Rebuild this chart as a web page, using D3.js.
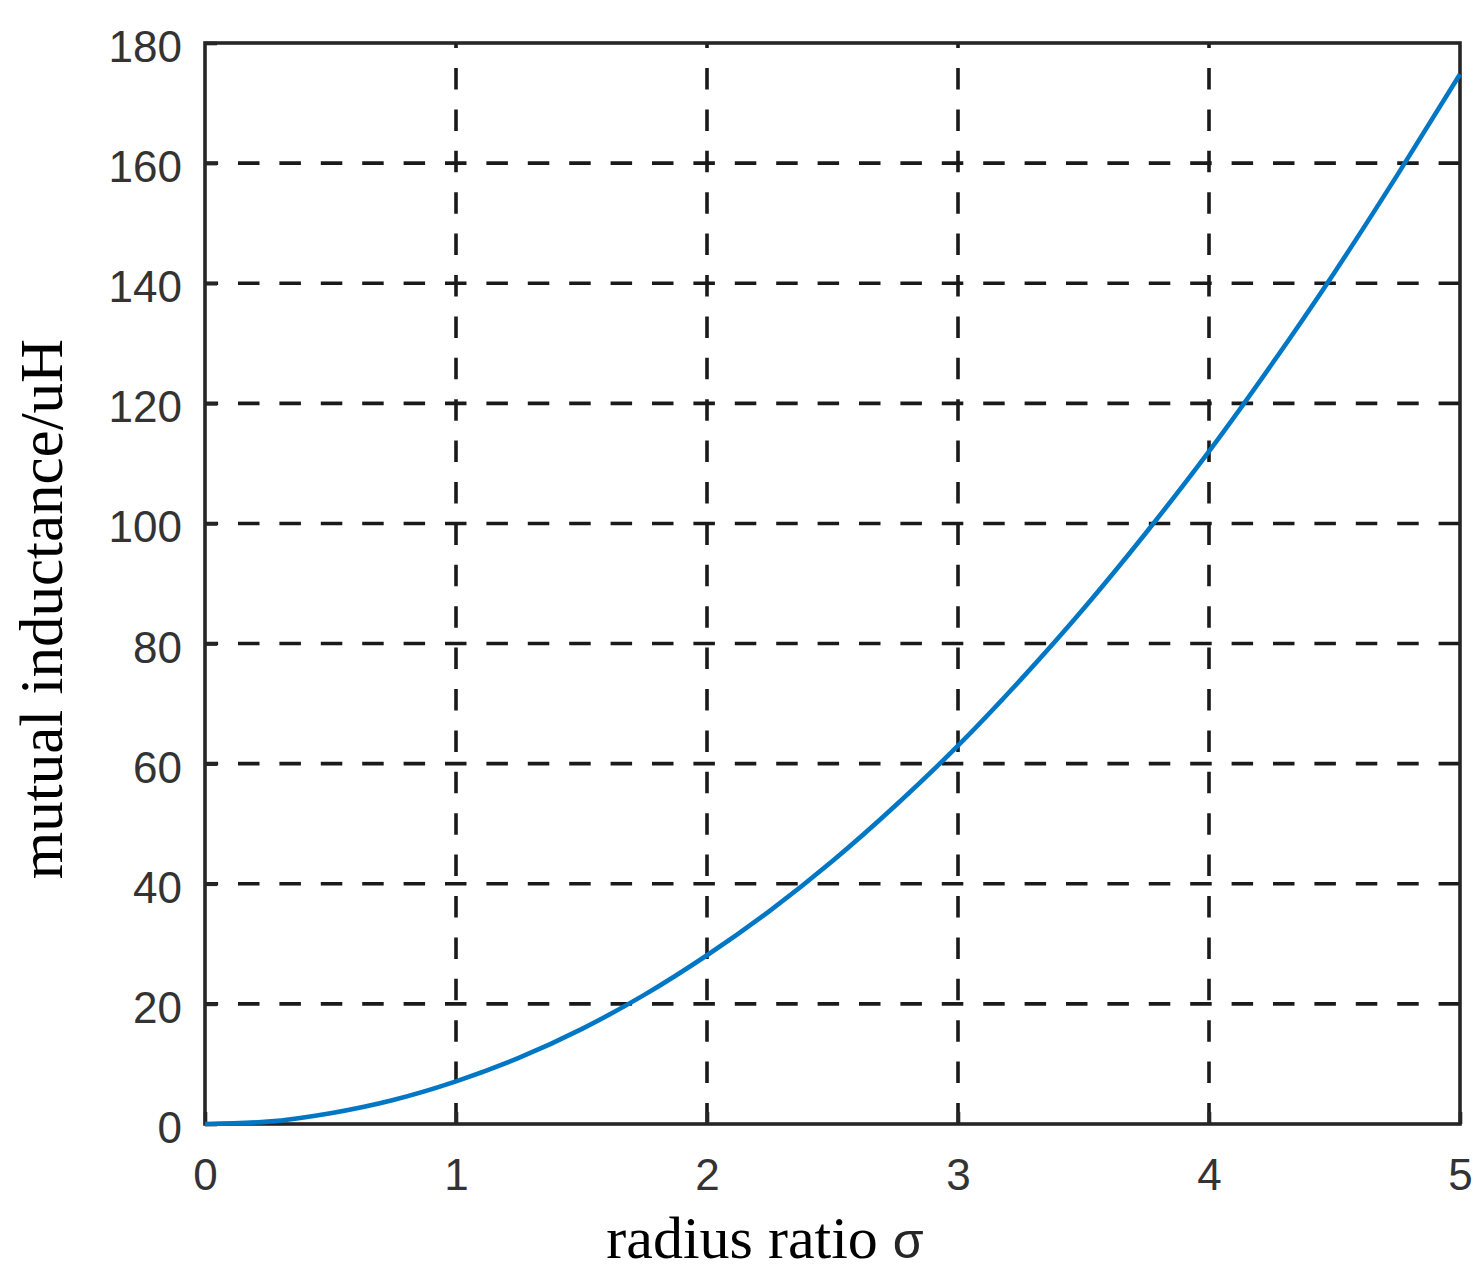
<!DOCTYPE html>
<html>
<head>
<meta charset="utf-8">
<script src="https://cdn.jsdelivr.net/npm/d3@7"></script>
<style>
  body { margin: 0; background: #fff; }
  svg { display: block; }
</style>
</head>
<body>
<svg id="chart"></svg>
<script>
// radius ratio sigma and mutual inductance (uH)
const sigma = [0, 0.25, 0.5, 0.75, 1, 1.25, 1.5, 1.75, 2, 2.25, 2.5, 2.75, 3, 3.25, 3.5, 3.75, 4, 4.25, 4.5, 4.75, 5];
const inductance = [0, 0.4, 1.8, 4.0, 7.1, 11.0, 15.8, 21.5, 28.1, 35.5, 43.8, 53.0, 63.0, 74.0, 85.8, 98.5, 112, 126.5, 141.8, 158, 174.8];
const xTicks = [0, 1, 2, 3, 4, 5];
const yTicks = [0, 20, 40, 60, 80, 100, 120, 140, 160, 180];

const width = 1479, height = 1282;
const margin = {top: 43, right: 19, bottom: 158, left: 205};
const innerW = width - margin.left - margin.right;
const innerH = height - margin.top - margin.bottom;

const svg = d3.select('#chart')
    .attr('width', width)
    .attr('height', height);

const g = svg.append('g')
    .attr('transform', `translate(${margin.left},${margin.top})`);

const x = d3.scaleLinear().domain([0, 5]).range([0, innerW]);
const y = d3.scaleLinear().domain([0, 180]).range([innerH, 0]);

const dash = '21.5,19.9';

// dashed grid
g.append('g').selectAll('line')
    .data(xTicks.slice(1, -1))
    .enter().append('line')
    .attr('x1', d => x(d)).attr('x2', d => x(d))
    .attr('y1', 0).attr('y2', innerH)
    .attr('stroke', '#1a1a1a')
    .attr('stroke-width', 3.6)
    .attr('stroke-dasharray', dash)
    .attr('stroke-dashoffset', 16.4);

g.append('g').selectAll('line')
    .data(yTicks.slice(1, -1))
    .enter().append('line')
    .attr('x1', 0).attr('x2', innerW)
    .attr('y1', d => y(d)).attr('y2', d => y(d))
    .attr('stroke', '#1a1a1a')
    .attr('stroke-width', 3.6)
    .attr('stroke-dasharray', dash)
    .attr('stroke-dashoffset', 8.4);

// axes (inward ticks, labels styled like matlab)
const xAxis = g.append('g')
    .attr('transform', `translate(0,${innerH})`)
    .call(d3.axisBottom(x).tickValues(xTicks).tickSizeInner(-12).tickSizeOuter(0).tickPadding(0).tickFormat(d3.format('d')));

const yAxis = g.append('g')
    .call(d3.axisLeft(y).tickValues(yTicks).tickSizeInner(-12).tickSizeOuter(0).tickPadding(0).tickFormat(d3.format('d')));

[xAxis, yAxis].forEach(a => {
    a.select('.domain').remove();
    a.selectAll('.tick line').attr('stroke', '#262626').attr('stroke-width', 3.6);
    a.selectAll('.tick text')
        .attr('fill', '#333')
        .style('font-family', '"Liberation Sans", Arial, sans-serif')
        .style('font-size', '44px');
});

xAxis.selectAll('.tick text').attr('y', 66).attr('dy', 0);
yAxis.selectAll('.tick text').attr('x', -23).attr('dy', '0.42em');

// box
g.append('rect')
    .attr('width', innerW)
    .attr('height', innerH)
    .attr('fill', 'none')
    .attr('stroke', '#262626')
    .attr('stroke-width', 3.6);

// curve
const line = d3.line()
    .x((d, i) => x(sigma[i]))
    .y(d => y(d))
    .curve(d3.curveMonotoneX);

g.append('path')
    .datum(inductance)
    .attr('fill', 'none')
    .attr('stroke', '#0077C5')
    .attr('stroke-width', 4.6)
    .attr('d', line);

// axis titles
const xTitle = svg.append('text')
    .attr('x', 765)
    .attr('y', 1258)
    .attr('text-anchor', 'middle')
    .style('font-family', '"Liberation Serif", "Times New Roman", serif')
    .style('font-size', '60px')
    .attr('fill', '#000');
xTitle.append('tspan').text('radius ratio ');
xTitle.append('tspan')
    .style('font-family', '"Liberation Sans", Arial, sans-serif')
    .style('font-size', '50px')
    .attr('fill', '#262626')
    .text('σ');

svg.append('text')
    .attr('transform', 'translate(62,609) rotate(-90)')
    .attr('text-anchor', 'middle')
    .style('font-family', '"Liberation Serif", "Times New Roman", serif')
    .style('font-size', '61px')
    .attr('fill', '#000')
    .text('mutual inductance/uH');
</script>
</body>
</html>
